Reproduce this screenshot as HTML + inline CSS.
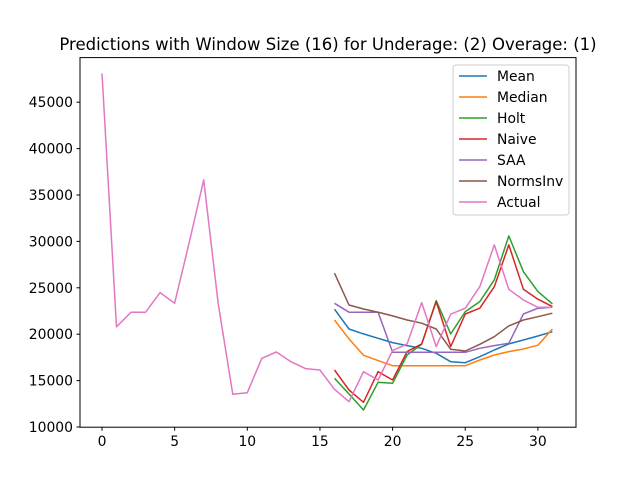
<!DOCTYPE html>
<html><head><meta charset="utf-8"><style>
body{margin:0;background:#fff;}
svg{display:block;font-family:"DejaVu Sans","Liberation Sans",sans-serif;}
</style></head><body>
<svg id="chart" width="640" height="480">
<rect width="640" height="480" fill="#fff"/>
<text x="328" y="50" font-size="16.5" text-anchor="middle">Predictions with Window Size (16) for Underage: (2) Overage: (1)</text>
<g id="plot"></g>
<rect x="80" y="57.6" width="496" height="369.6" fill="none" stroke="#000" stroke-width="1"/>
<g id="legend"></g>
</svg>
<script>
const xTicks=[0,5,10,15,20,25,30];
const yTicks=[10000,15000,20000,25000,30000,35000,40000,45000];
const seriesNames=["Mean","Median","Holt","Naive","SAA","NormsInv","Actual"];
const actual=[48100,20800,22370,22370,24480,23330,29870,36630,23300,13520,13700,17400,18080,17040,16290,16140,14060,12730,15960,15070,18230,18950,23400,18660,22150,22800,25120,29620,24840,23690,22900,22900];
const mean=[22690,20560,20030,19560,19090,18770,18480,17940,17040,16930,17580,18300,18950,19380,19810,20270];
const median=[21530,19490,17730,17150,16610,16610,16610,16610,16610,16610,17220,17760,18120,18410,18810,20560];
const holt=[15250,13560,11830,14820,14710,17760,18910,23620,20030,22430,23510,25850,30590,26740,24590,23260];
const naive=[16140,13990,12660,15960,15070,18120,18950,23510,18660,22180,22800,25120,29620,24840,23770,22970];
const saa=[23330,22370,22370,22370,18050,18050,18050,18050,18050,18050,18480,18770,19020,22180,22800,22900];
const normsinv=[26570,23150,22720,22370,21970,21530,21180,20560,18370,18190,18910,19730,20890,21530,21890,22260];
const forecastStart=16;
const colors=["#1f77b4","#ff7f0e","#2ca02c","#d62728","#9467bd","#8c564b","#e377c2"];
const NS="http://www.w3.org/2000/svg";
const xS=v=>102+v*14.53;
const yS=v=>427-(v-10000)/5000*46.4;
const plot=document.getElementById('plot');
const svg=document.getElementById('chart');
function mk(tag,attrs,parent){const e=document.createElementNS(NS,tag);for(const k in attrs)e.setAttribute(k,attrs[k]);parent.appendChild(e);return e;}
xTicks.forEach(t=>{
  const l=mk('line',{x1:xS(t),x2:xS(t),y1:427.2,y2:430.7,stroke:'#000'},svg);
  
  
  const tx=mk('text',{x:xS(t),y:446,'font-size':13.9,'text-anchor':'middle'},svg);
  tx.textContent=t;
  
  
});
yTicks.forEach(t=>{
  const l=mk('line',{x1:76.5,x2:80,y1:yS(t),y2:yS(t),stroke:'#000'},svg);
  
  
  const tx=mk('text',{x:73,y:yS(t)+5,'font-size':13.9,'text-anchor':'end'},svg);
  tx.textContent=t;
  
  
});
const all=[mean,median,holt,naive,saa,normsinv,actual];
all.forEach((s,i)=>{
  const off=(s===actual)?0:forecastStart;
  const pts=s.map((v,j)=>xS(j+off).toFixed(1)+','+yS(v).toFixed(1)).join(' ');
  const p=mk('polyline',{points:pts,fill:'none',stroke:colors[i],'stroke-width':1.5,'stroke-linejoin':'round'},plot);
  
  
});
const lg=document.getElementById('legend');
const box=mk('rect',{x:453,y:65,width:116,height:150,rx:3,fill:'#fff','fill-opacity':0.8,stroke:'#ccc'},lg);


seriesNames.forEach((n,i)=>{
  const y=76+i*21;
  const g=mk('g',{},lg);
  
  
  mk('line',{x1:459,x2:487,y1:y,y2:y,stroke:colors[i],'stroke-width':1.5},g);
  const t=mk('text',{x:497,y:y+5,'font-size':13.9},g);
  t.textContent=n;
});
</script>
</body></html>
